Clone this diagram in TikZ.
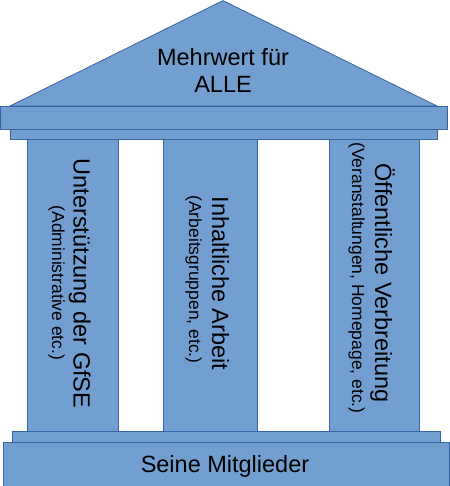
\documentclass[tikz,border=0pt]{standalone}
\usepackage{fontspec}
\setmainfont{Liberation Sans}
\definecolor{templefill}{HTML}{729FCF}
\definecolor{templeline}{HTML}{3465A4}
\newcommand{\pillarmain}{\fontsize{23.5pt}{27pt}\selectfont}
\newcommand{\pillarsub}{\fontsize{17.5pt}{20pt}\selectfont}

\begin{document}
\begin{tikzpicture}[
x=1pt, y=-1pt,
part/.style={
draw=templeline,
fill=templefill,
line width=0.8pt
},
title/.style={
align=center,
inner sep=0pt,
font=\pillarmain
},
pillar/.style={
anchor=base,
rotate=-90,
inner sep=0pt,
font=\pillarmain
},
pillarnote/.style={
anchor=base,
rotate=-90,
inner sep=0pt,
font=\pillarsub
}
]
\useasboundingbox (0,0) rectangle (449,486);

% roof
\draw[part] (10,106) -- (223,0.6) -- (437,106) -- cycle;
\draw[part] (0.6,106) rectangle (447,129);
\draw[part] (10,129) rectangle (437,139);

% columns
\draw[part] (27,139) rectangle (118,431);
\draw[part] (163,139) rectangle (257,431);
\draw[part] (329,139) rectangle (419,431);

% base
\draw[part] (12,431) rectangle (440,442);
\draw[part] (3,442) rectangle (449,486);

\node[title] (roof) at (223,70) {Mehrwert für\\ALLE};

\node[pillar] (support) at (73.5,283.5) {Unterstützung der GfSE};
\node[pillarnote] (supportnote) at (52,283) {(Administrative etc.)};

\node[pillar] (content) at (212,283.5) {Inhaltliche Arbeit};
\node[pillarnote] (contentnote) at (189,279.5) {(Arbeitsgruppen, etc.)};

\node[pillar] (public) at (375,283) {Öffentliche Verbreitung};
\node[pillarnote] (publicnote) at (352,278) {(Veranstaltungen, Homepage, etc.)};

\node[title, anchor=base] (members) at (225,472) {Seine Mitglieder};

\end{tikzpicture}
\end{document}
